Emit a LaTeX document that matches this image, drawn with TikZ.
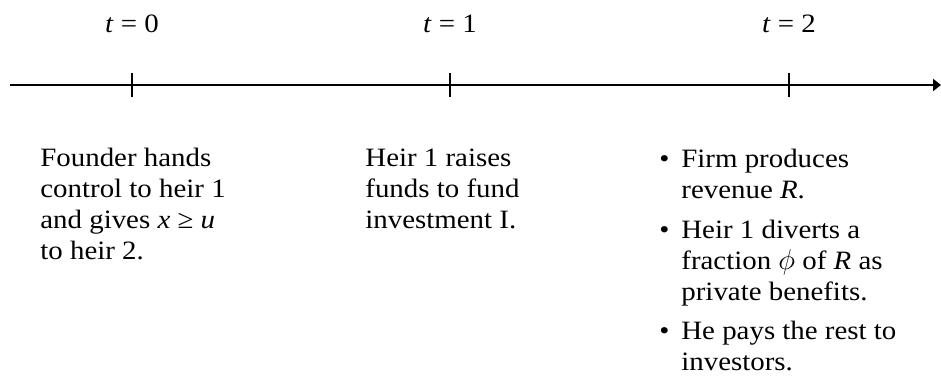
\documentclass[tikz,border=0pt]{standalone}
\usepackage{fontspec}
\setmainfont{Liberation Serif}[FakeStretch=1.09]
\usetikzlibrary{arrows.meta, positioning}
\tikzset{
  every picture/.style={x=0.5pt, y=-0.5pt, font=\fontsize{13.25}{15.5}\selectfont},
  axis/.style={-{Triangle[length=4pt, width=6pt]}, line width=1.2pt},
  tick/.style={line width=0.8pt},
  lab/.style={inner sep=0pt, anchor=base},
  note/.style={inner sep=0pt, anchor=base west, align=left},
}
\newcommand{\bul}{\makebox[11pt][l]{\textbullet}}
\newcommand{\ind}{\hspace*{11pt}}

\begin{document}
\begin{tikzpicture}
  \useasboundingbox (0,0) rectangle (941,389);
  \coordinate (start) at (10,85);
  \coordinate (end) at (941,85);
  \draw[axis] (start) -- (end);
  \foreach \x/\n/\l in {132/t0/0, 450/t1/1, 789/t2/2} {
    \coordinate (\n) at (\x,85);
    \draw[tick] (\n) ++(0,-12) -- ++(0,24);
    \node[lab] (lab\n) at (\x,33) {\textit{t} = \l};
  }
  % what happens at each date (anchored at the last baseline)
  \node[note] (found) at (40,260) {Founder hands\\control to heir 1\\and gives \textit{x} ≥ \textit{u}\\to heir 2.};
  \node[note] (raise) at (365,229) {Heir 1 raises\\funds to fund\\investment I.};
  \node[note] (prod) at (659,371) {\bul Firm produces\\\ind revenue \textit{R}.\\[4.25pt]\bul Heir 1 diverts a\\\ind fraction $\phi$ of \textit{R} as\\\ind private benefits.\\[4.25pt]\bul He pays the rest to\\\ind investors.};
\end{tikzpicture}
\end{document}
